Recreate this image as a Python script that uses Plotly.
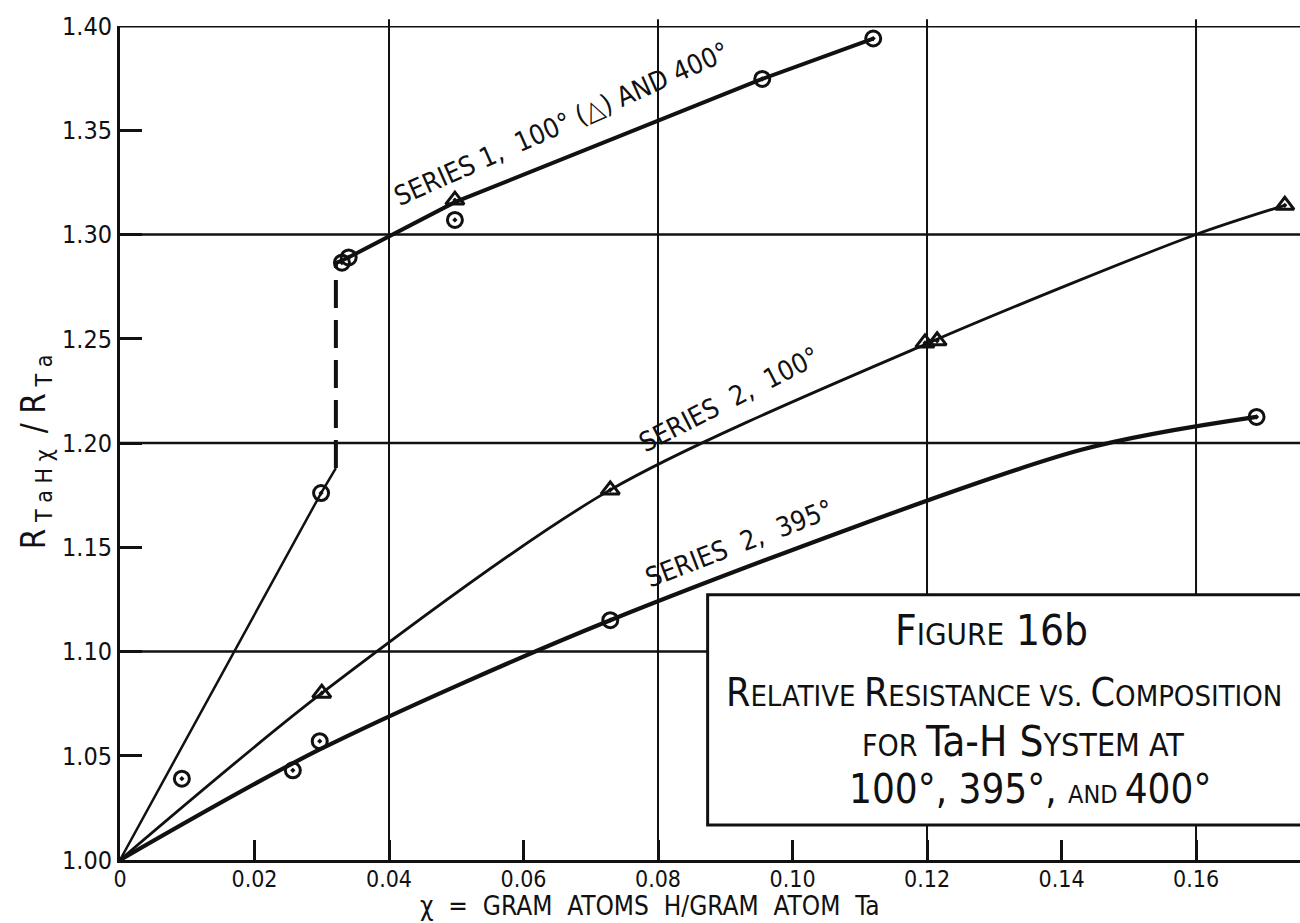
import plotly.graph_objects as go

# ---------------- data ----------------
# Series 1, lower branch (line) and upper branch (line)
S1_LOW_X = [0.0, 0.0299, 0.0321]
S1_LOW_Y = [1.000, 1.176, 1.188]
S1_JUMP_X = [0.0321, 0.0321]
S1_JUMP_Y = [1.188, 1.2863]
S1_UP_X = [0.0321, 0.0338, 0.0498, 0.0955, 0.112]
S1_UP_Y = [1.2863, 1.2887, 1.3155, 1.3746, 1.394]
# Series 1 points: circles (400 deg) and triangle (100 deg)
S1_CIRC_X = [0.0092, 0.0299, 0.0330, 0.0340, 0.0498, 0.0955, 0.112]
S1_CIRC_Y = [1.039, 1.176, 1.2865, 1.289, 1.307, 1.3746, 1.394]
S1_TRI_X = [0.0498]
S1_TRI_Y = [1.3165]

# Series 2, 100 deg (triangles)
S2_100_LINE_X = [0.0, 0.030, 0.0729, 0.1206, 0.160, 0.1732]
S2_100_LINE_Y = [1.000, 1.080, 1.1775, 1.2485, 1.300, 1.314]
S2_100_TRI_X = [0.030, 0.0729, 0.1197, 0.1215, 0.1732]
S2_100_TRI_Y = [1.080, 1.1775, 1.248, 1.249, 1.314]

# Series 2, 395 deg (circles)
S2_395_LINE_X = [0.0, 0.0297, 0.0729, 0.1428, 0.169]
S2_395_LINE_Y = [1.000, 1.053, 1.115, 1.1966, 1.2125]
S2_395_CIRC_X = [0.0257, 0.0297, 0.0729, 0.169]
S2_395_CIRC_Y = [1.043, 1.057, 1.115, 1.2125]

X_TICKS = [0, 0.02, 0.04, 0.06, 0.08, 0.10, 0.12, 0.14, 0.16]
X_TICK_TEXT = ["0", "0.02", "0.04", "0.06", "0.08", "0.10", "0.12", "0.14", "0.16"]
Y_TICKS = [1.00, 1.05, 1.10, 1.15, 1.20, 1.25, 1.30, 1.35, 1.40]
Y_TICK_TEXT = ["1.00", "1.05", "1.10", "1.15", "1.20", "1.25", "1.30", "1.35", "1.40"]
X_GRID = [0.04, 0.08, 0.12, 0.16]
Y_GRID = [1.10, 1.20, 1.30, 1.40]

FONT = "Liberation Sans Narrow, DejaVu Sans Condensed, Arial Narrow, sans-serif"
INK = "#111"

fig = go.Figure()

# gridlines (below data)
for gx in X_GRID:
    fig.add_shape(type="line", xref="x", yref="paper", x0=gx, x1=gx, y0=0, y1=1.008,
                  line=dict(color=INK, width=2), layer="below")
for gy in Y_GRID:
    fig.add_shape(type="line", xref="paper", yref="y", x0=0, x1=1, y0=gy, y1=gy,
                  line=dict(color=INK, width=3 if gy == 1.40 else 2.5), layer="below")

def line(x, y, w, dash="solid", shape="linear"):
    fig.add_trace(go.Scatter(x=x, y=y, mode="lines", showlegend=False, hoverinfo="skip",
                             line=dict(color=INK, width=w, dash=dash, shape=shape, smoothing=0.8)))

def marks(x, y, sym, size):
    fig.add_trace(go.Scatter(x=x, y=y, mode="markers", showlegend=False,
                             marker=dict(symbol=sym, size=size, color=INK,
                                         line=dict(color=INK, width=3))))

line(S1_LOW_X, S1_LOW_Y, 2.5)
line(S1_JUMP_X, S1_JUMP_Y, 4, dash="28px,12px")
line(S1_UP_X, S1_UP_Y, 4)
line(S2_100_LINE_X, S2_100_LINE_Y, 2.8, shape="spline")
line(S2_395_LINE_X, S2_395_LINE_Y, 4.2, shape="spline")

marks(S1_CIRC_X, S1_CIRC_Y, "circle-open-dot", 15)
marks(S2_395_CIRC_X, S2_395_CIRC_Y, "circle-open-dot", 15)
marks(S1_TRI_X, S1_TRI_Y, "triangle-up-open-dot", 16)
marks(S2_100_TRI_X, S2_100_TRI_Y, "triangle-up-open-dot", 16)

# curve labels
lab = dict(showarrow=False, font=dict(family=FONT, size=27, color=INK), xref="x", yref="y")
fig.add_annotation(x=0.0657, y=1.353, text="SERIES 1,  100° (△) AND 400°", textangle=-24, **lab)
fig.add_annotation(x=0.0905, y=1.221, text="SERIES  2,  100°", textangle=-27, **lab)
fig.add_annotation(x=0.0920, y=1.152, text="SERIES  2,  395°", textangle=-21, **lab)

# title box
fig.add_shape(type="rect", xref="paper", yref="paper", x0=0.498, x1=1.01, y0=0.042, y1=0.318,
              line=dict(color=INK, width=3), fillcolor="white", layer="above")

def sc(big, small, bs, ss):
    return f"<span style='font-size:{bs}px'>{big}</span><span style='font-size:{ss}px'>{small}</span>"

# (styled multi-size text is placed by its right / bottom edge)
box = dict(showarrow=False, font=dict(family=FONT, size=30, color=INK), xref="paper", yref="paper")
fig.add_annotation(x=0.822, y=0.2434, text=sc("F", "IGURE", 42, 31) + "<span style='font-size:42px'> 16b</span>", **box)
fig.add_annotation(x=0.9864, y=0.1715,
                   text=sc("R", "ELATIVE ", 39, 29) + sc("R", "ESISTANCE ", 39, 29) + sc("", "VS. ", 39, 29)
                   + sc("C", "OMPOSITION", 39, 29), **box)
fig.add_annotation(x=0.9034, y=0.1103,
                   text=sc("", "FOR ", 42, 30) + sc("Ta-H ", "", 42, 30) + sc("S", "YSTEM AT", 42, 32), **box)
fig.add_annotation(x=0.9263, y=0.0552,
                   text=sc("100°, 395°, ", "AND ", 40, 25) + sc("400°", "", 40, 25), **box)

# axis titles
fig.add_annotation(x=-0.092, y=0.49, xref="paper", yref="paper", showarrow=False, textangle=-90,
                   text="R<sub> T a H χ </sub> / R<sub> T a</sub>", font=dict(family=FONT, size=33, color=INK))
fig.add_annotation(x=0.449, y=-0.055, xref="paper", yref="paper", showarrow=False, yanchor="middle",
                   text="χ  =  GRAM  ATOMS  H/GRAM  ATOM  Ta", font=dict(family=FONT, size=26, color=INK))

fig.update_xaxes(range=[0, 0.17546], tickvals=X_TICKS, ticktext=X_TICK_TEXT, showgrid=False,
                 zeroline=False, showline=True, linewidth=3, linecolor=INK,
                 ticks="inside", ticklen=20, tickwidth=3, tickcolor=INK, ticklabelstandoff=-4,
                 tickfont=dict(family=FONT, size=23, color=INK))
fig.update_yaxes(range=[1.0, 1.40], tickvals=Y_TICKS, ticktext=Y_TICK_TEXT, showgrid=False,
                 zeroline=False, showline=True, linewidth=3, linecolor=INK,
                 ticks="inside", ticklen=22, tickwidth=3, tickcolor=INK,
                 tickfont=dict(family=FONT, size=25, color=INK))

fig.update_layout(width=1300, height=923, margin=dict(l=120, r=0, t=26, b=63),
                  plot_bgcolor="white", paper_bgcolor="white", showlegend=False)

fig.write_html("out.html")
